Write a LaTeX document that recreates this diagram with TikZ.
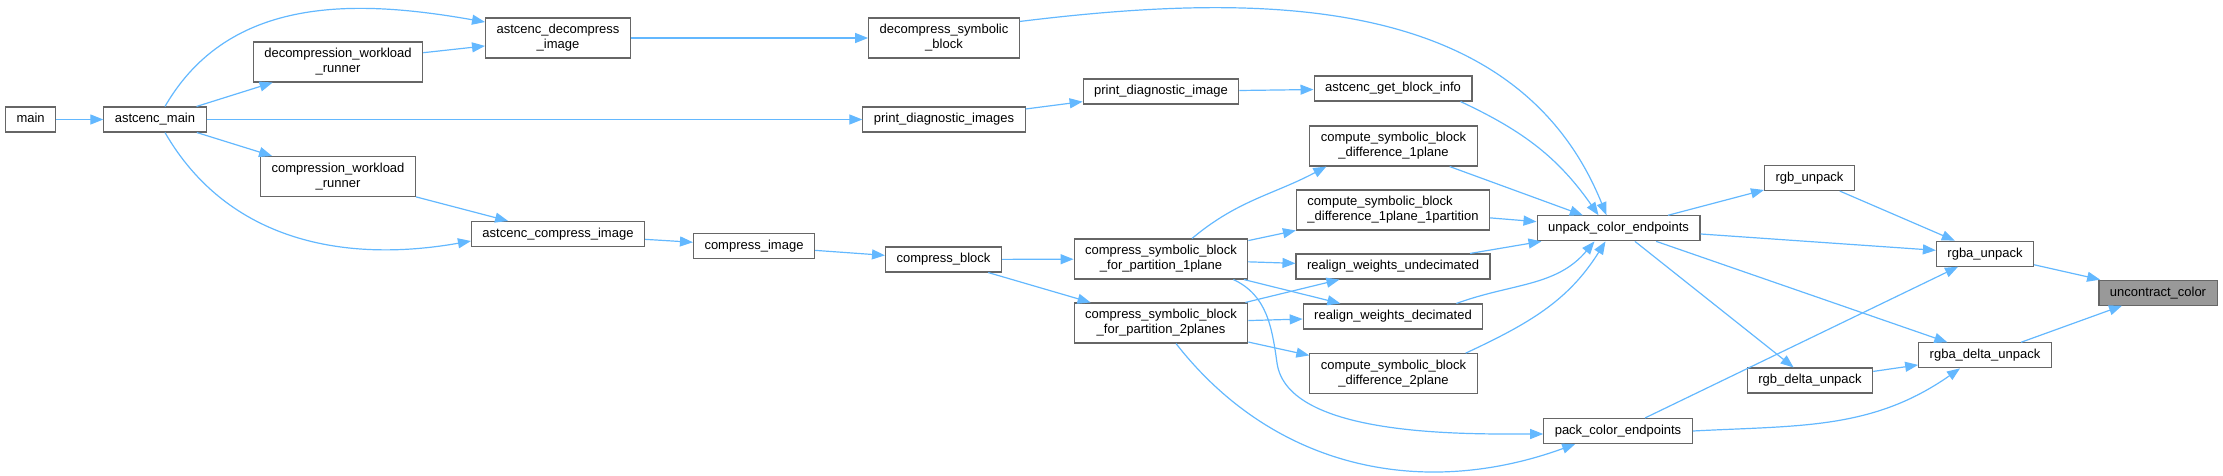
\documentclass[tikz,border=0pt]{standalone}
\usepackage{fontspec}
\setmainfont{Liberation Sans}
\usepackage{tikz}
\usetikzlibrary{arrows.meta,positioning}
\usepackage{xcolor}
\definecolor{edgeblue}{HTML}{63B8FF}
\definecolor{boxgray}{HTML}{666666}
\definecolor{hlgray}{HTML}{999999}
\newcommand{\gfont}{\fontsize{13}{15}\selectfont}

\begin{document}
\begin{tikzpicture}[x=1pt,y=1pt,
  fn/.style={draw=boxgray,fill=white,line width=1.1pt,font=\gfont,inner xsep=11pt,inner ysep=0pt,minimum height=25pt,text height=9.8pt,text depth=3.2pt},
  fn2/.style={fn,align=center,minimum height=40pt,text height={},text depth={}},
  hl/.style={fill=hlgray},
  call/.style={draw=edgeblue,line width=1.2pt,-{Triangle[length=13pt,width=10pt]}}]
\useasboundingbox (0,0) rectangle (2223,-475);
\node[fn] (main) at (30.6,-119.5) {main};
\node[fn] (amain) at (155,-119.5) {astcenc\_main};
\node[fn2] (dwr) at (338,-62) {decompression\_workload\\\_runner};
\node[fn2] (cwr) at (338,-176.5) {compression\_workload\\\_runner};
\node[fn2] (adi) at (558,-38) {astcenc\_decompress\\\_image};
\node[fn] (aci) at (558,-234) {astcenc\_compress\_image};
\node[fn] (ci) at (754,-246) {compress\_image};
\node[fn2] (dsb) at (944,-38) {decompress\_symbolic\\\_block};
\node[fn] (pdis) at (944,-119.5) {print\_diagnostic\_images};
\node[fn] (cb) at (943.5,-259.5) {compress\_block};
\node[fn] (pdi) at (1161,-91.5) {print\_diagnostic\_image};
\node[fn2] (cs1) at (1161,-259) {compress\_symbolic\_block\\\_for\_partition\_1plane};
\node[fn2] (cs2) at (1161,-323) {compress\_symbolic\_block\\\_for\_partition\_2planes};
\node[fn] (gbi) at (1393,-88.5) {astcenc\_get\_block\_info};
\node[fn2] (c1p) at (1393.5,-146) {compute\_symbolic\_block\\\_difference\_1plane};
\node[fn2,align=left] (c1pp) at (1393,-210) {compute\_symbolic\_block\\\_difference\_1plane\_1partition};
\node[fn] (rwu) at (1393,-266.5) {realign\_weights\_undecimated};
\node[fn] (rwd) at (1393,-316.5) {realign\_weights\_decimated};
\node[fn2] (c2p) at (1393.5,-373.7) {compute\_symbolic\_block\\\_difference\_2plane};
\node[fn] (uce) at (1618.5,-228.3) {unpack\_color\_endpoints};
\node[fn] (pce) at (1618,-431) {pack\_color\_endpoints};
\node[fn] (rgbu) at (1809.5,-178) {rgb\_unpack};
\node[fn] (rgbdu) at (1810,-380.5) {rgb\_delta\_unpack};
\node[fn] (rgbau) at (1985,-253.7) {rgba\_unpack};
\node[fn] (rgbadu) at (1985,-355.3) {rgba\_delta\_unpack};
\node[fn,hl] (ucol) at (2158,-292.7) {uncontract\_color};

\foreach \a/\b in {main/amain,amain/dwr,dwr/adi,amain/pdis,amain/cwr,cwr/aci,adi/dsb,pdis/pdi,pdi/gbi,
  aci/ci,ci/cb,cb/cs1,cb/cs2,cs1/c1pp,cs1/rwu,cs1/rwd,cs2/rwu,cs2/rwd,cs2/c2p,c1p/uce,c1pp/uce,rwu/uce,
  uce/rgbu,uce/rgbau,uce/rgbadu,uce/rgbdu,rgbu/rgbau,rgbdu/rgbadu,rgbau/ucol,rgbadu/ucol,pce/rgbau}
  \draw[call] (\a) -- (\b);

\draw[call] ([xshift=10pt]amain.north) to[out=60,in=170] ([yshift=16pt]adi.west);
\draw[call] ([xshift=10pt]amain.south) to[out=-60,in=-170] ([yshift=-7pt]aci.west);
\draw[call] ([yshift=-4pt]dsb.north east) to[out=7,in=112] ([xshift=-12pt]uce.north);
\draw[call] ([xshift=-12pt]gbi.south east) to[out=-25,in=125] ([xshift=-20pt]uce.north);
\draw[call] ([xshift=-27pt]rwd.north east) to[out=20,in=-130] ([xshift=-24pt]uce.south);
\draw[call] ([xshift=-12pt]c2p.north east) to[out=25,in=-122] ([xshift=-13pt]uce.south);
\draw[call] ([xshift=31pt]cs1.north) to[out=40,in=-152] ([xshift=17pt]c1p.south west);
\draw[call] ([xshift=-15pt]cs1.south east) to[out=-25,in=98] (1277,-363) to[out=-82,in=180,looseness=0.7] ([yshift=-3pt]pce.west);
\draw[call] ([xshift=15pt]cs2.south) to[out=-52,in=-160] ([xshift=32pt]pce.south west);
\draw[call] (pce.east) to[out=3,in=-145] ([xshift=-25pt]rgbadu.south);
\end{tikzpicture}
\end{document}
